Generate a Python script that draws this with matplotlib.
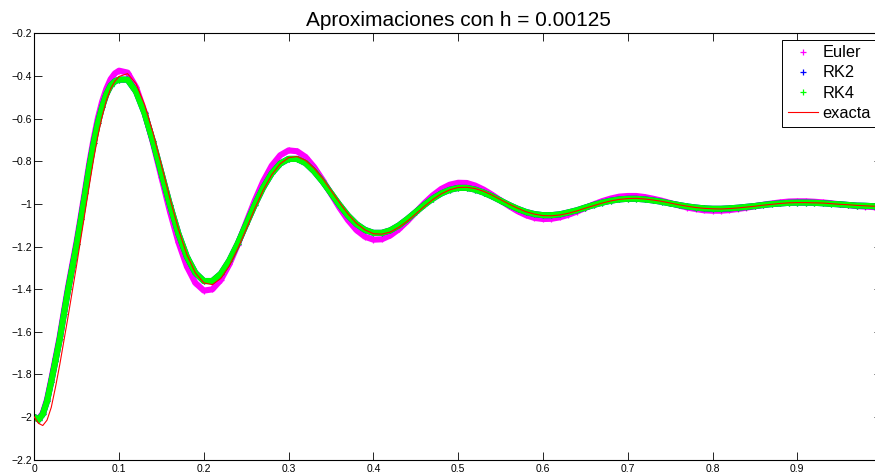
import matplotlib
matplotlib.use("Agg")
import matplotlib.pyplot as plt
from matplotlib.ticker import FixedLocator, FixedFormatter

plt.rcParams['font.family'] = ['Liberation Sans', 'DejaVu Sans']

# ---- data ----
t = [0.000, 0.005, 0.010, 0.015, 0.020, 0.025, 0.030, 0.035, 0.040, 0.045,
     0.050, 0.055, 0.060, 0.065, 0.070, 0.075, 0.080, 0.085, 0.090, 0.095,
     0.10, 0.11, 0.12, 0.13, 0.14, 0.15, 0.16, 0.17, 0.18, 0.19,
     0.20, 0.21, 0.22, 0.23, 0.24, 0.25, 0.26, 0.27, 0.28, 0.29,
     0.30, 0.31, 0.32, 0.33, 0.34, 0.35, 0.36, 0.37, 0.38, 0.39,
     0.40, 0.41, 0.42, 0.43, 0.44, 0.45, 0.46, 0.47, 0.48, 0.49,
     0.50, 0.51, 0.52, 0.53, 0.54, 0.55, 0.56, 0.57, 0.58, 0.59,
     0.60, 0.61, 0.62, 0.63, 0.64, 0.65, 0.66, 0.67, 0.68, 0.69,
     0.70, 0.71, 0.72, 0.73, 0.74, 0.75, 0.76, 0.77, 0.78, 0.79,
     0.80, 0.81, 0.82, 0.83, 0.84, 0.85, 0.86, 0.87, 0.88, 0.89,
     0.90, 0.91, 0.92, 0.93, 0.94, 0.95, 0.96, 0.97, 0.98, 0.99,
     1.00]

euler = [-2.000, -2.010, -1.982, -1.918, -1.824, -1.724, -1.622, -1.502, -1.386, -1.280,
         -1.174, -1.055, -0.932, -0.806, -0.695, -0.598, -0.520, -0.460, -0.415, -0.388,
         -0.375, -0.384, -0.452, -0.567, -0.714, -0.876, -1.036, -1.180, -1.294, -1.371,
         -1.407, -1.401, -1.357, -1.284, -1.191, -1.087, -0.985, -0.894, -0.821, -0.772,
         -0.749, -0.753, -0.780, -0.827, -0.887, -0.953, -1.018, -1.076, -1.123, -1.154,
         -1.168, -1.166, -1.148, -1.119, -1.081, -1.039, -0.997, -0.960, -0.930, -0.910,
         -0.901, -0.902, -0.914, -0.933, -0.957, -0.984, -1.010, -1.034, -1.053, -1.066,
         -1.071, -1.070, -1.063, -1.051, -1.036, -1.019, -1.002, -0.987, -0.975, -0.966,
         -0.963, -0.963, -0.968, -0.976, -0.985, -0.996, -1.007, -1.017, -1.024, -1.030,
         -1.032, -1.032, -1.029, -1.024, -1.018, -1.011, -1.004, -0.998, -0.993, -0.989,
         -0.988, -0.988, -0.990, -0.993, -0.997, -1.002, -1.006, -1.010, -1.013, -1.015,
         -1.016]

rk2 = [-2.000, -2.012, -1.987, -1.926, -1.834, -1.735, -1.635, -1.515, -1.400, -1.295,
       -1.190, -1.072, -0.950, -0.825, -0.715, -0.620, -0.545, -0.485, -0.445, -0.425,
       -0.417, -0.417, -0.473, -0.574, -0.707, -0.856, -1.005, -1.140, -1.249, -1.324,
       -1.362, -1.362, -1.328, -1.266, -1.186, -1.095, -1.005, -0.923, -0.857, -0.811,
       -0.789, -0.789, -0.809, -0.847, -0.895, -0.950, -1.005, -1.055, -1.095, -1.122,
       -1.136, -1.136, -1.124, -1.101, -1.071, -1.038, -1.005, -0.975, -0.951, -0.934,
       -0.925, -0.925, -0.933, -0.947, -0.965, -0.985, -1.005, -1.023, -1.038, -1.048,
       -1.053, -1.053, -1.049, -1.040, -1.030, -1.017, -1.005, -0.994, -0.985, -0.979,
       -0.976, -0.976, -0.979, -0.984, -0.990, -0.998, -1.005, -1.012, -1.017, -1.021,
       -1.023, -1.023, -1.021, -1.018, -1.014, -1.010, -1.005, -1.001, -0.998, -0.995,
       -0.994, -0.994, -0.995, -0.997, -1.000, -1.002, -1.005, -1.008, -1.009, -1.011,
       -1.012]

rk4 = [-2.000, -2.012, -1.987, -1.926, -1.834, -1.735, -1.635, -1.515, -1.400, -1.295,
       -1.190, -1.072, -0.950, -0.825, -0.715, -0.620, -0.545, -0.485, -0.445, -0.425,
       -0.417, -0.417, -0.473, -0.574, -0.707, -0.856, -1.005, -1.140, -1.249, -1.324,
       -1.362, -1.362, -1.328, -1.266, -1.186, -1.095, -1.005, -0.923, -0.857, -0.811,
       -0.789, -0.789, -0.809, -0.847, -0.895, -0.950, -1.005, -1.055, -1.095, -1.122,
       -1.136, -1.136, -1.124, -1.101, -1.071, -1.038, -1.005, -0.975, -0.951, -0.934,
       -0.925, -0.925, -0.933, -0.947, -0.965, -0.985, -1.005, -1.023, -1.038, -1.048,
       -1.053, -1.053, -1.049, -1.040, -1.030, -1.017, -1.005, -0.994, -0.985, -0.979,
       -0.976, -0.976, -0.979, -0.984, -0.990, -0.998, -1.005, -1.012, -1.017, -1.021,
       -1.023, -1.023, -1.021, -1.018, -1.014, -1.010, -1.005, -1.001, -0.998, -0.995,
       -0.994, -0.994, -0.995, -0.997, -1.000, -1.002, -1.005, -1.008, -1.009, -1.011,
       -1.012]

exacta = [-2.000, -2.030, -2.040, -2.015, -1.955, -1.860, -1.755, -1.640, -1.525, -1.405,
          -1.285, -1.160, -1.035, -0.910, -0.790, -0.680, -0.590, -0.515, -0.460, -0.425,
          -0.402, -0.389, -0.436, -0.534, -0.666, -0.819, -0.975, -1.119, -1.238, -1.324,
          -1.371, -1.379, -1.350, -1.291, -1.210, -1.118, -1.023, -0.936, -0.864, -0.812,
          -0.783, -0.778, -0.796, -0.832, -0.880, -0.937, -0.994, -1.047, -1.091, -1.122,
          -1.140, -1.142, -1.132, -1.110, -1.081, -1.047, -1.012, -0.980, -0.953, -0.934,
          -0.923, -0.922, -0.928, -0.941, -0.959, -0.980, -1.001, -1.020, -1.037, -1.048,
          -1.055, -1.056, -1.052, -1.044, -1.033, -1.020, -1.008, -0.996, -0.986, -0.979,
          -0.975, -0.974, -0.977, -0.982, -0.988, -0.996, -1.004, -1.011, -1.017, -1.021,
          -1.023, -1.024, -1.022, -1.019, -1.015, -1.011, -1.006, -1.002, -0.998, -0.995,
          -0.994, -0.994, -0.995, -0.996, -0.999, -1.002, -1.004, -1.007, -1.009, -1.011,
          -1.012]

series_names = ['Euler', 'RK2', 'RK4']
series_colors = ['#ff00ff', '#0000ff', '#00ff00']
exact_name = 'exacta'
title_text = 'Aproximaciones con h = 0.00125'

xticks = [0.0, 0.1, 0.2, 0.3, 0.4, 0.5, 0.6, 0.7, 0.8, 0.9, 1.0]
xtick_labels = ['0', '0.1', '0.2', '0.3', '0.4', '0.5', '0.6', '0.7', '0.8', '0.9', '']
yticks = [-2.2, -2.0, -1.8, -1.6, -1.4, -1.2, -1.0, -0.8, -0.6, -0.4, -0.2]
ytick_labels = ['\u22122.2', '\u22122', '\u22121.8', '\u22121.6', '\u22121.4', '\u22121.2',
                '\u22121', '\u22120.8', '\u22120.6', '\u22120.4', '\u22120.2']

# ---- figure ----
fig = plt.figure(figsize=(8.75, 4.75), dpi=100)
ax = fig.add_axes([0.0392, 0.0324, 0.9689, 0.8973])

handles = []
for ys, name, col in zip([euler, rk2, rk4], series_names, series_colors):
    ax.plot(t, ys, '-', color=col, lw=4.4, solid_joinstyle='round',
            solid_capstyle='round', zorder=2)
    h, = ax.plot(t, ys, '+', color=col, ms=5, mew=0.9, zorder=2, label=name)
    handles.append(h)

he, = ax.plot(t, exacta, '-', color='#ff0000', lw=0.8, zorder=3, label=exact_name)
handles.append(he)

ax.set_xlim(0, 1)
ax.set_ylim(-2.2, -0.2)
ax.xaxis.set_major_locator(FixedLocator(xticks))
ax.xaxis.set_major_formatter(FixedFormatter(xtick_labels))
ax.yaxis.set_major_locator(FixedLocator(yticks))
ax.yaxis.set_major_formatter(FixedFormatter(ytick_labels))
ax.tick_params(direction='in', length=6, width=0.6, top=True, right=True,
               labelsize=7.5, colors='black')
ax.tick_params(axis='y', pad=1.5)
ax.tick_params(axis='x', pad=3)
for sp in ax.spines.values():
    sp.set_linewidth(0.8)
    sp.set_color('black')

ax.set_title(title_text, fontsize=15, pad=5)

leg = ax.legend(handles=handles, loc='upper left',
                bbox_to_anchor=(782 / 875, 1 - 39.5 / 475),
                bbox_transform=fig.transFigure, borderaxespad=0,
                fontsize=11.8, frameon=True, fancybox=False, framealpha=1,
                edgecolor='black', borderpad=0.35, labelspacing=0.32,
                handlelength=1.85, handletextpad=0.25, markerscale=1.0)
leg.get_frame().set_linewidth(0.7)

fig.savefig('out.png', dpi=100)
